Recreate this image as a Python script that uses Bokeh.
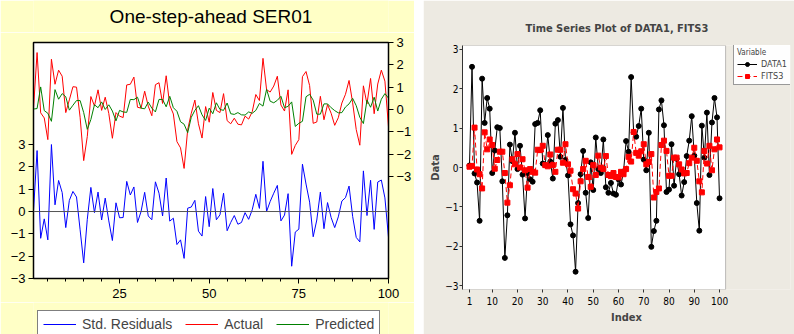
from bokeh.plotting import figure
from bokeh.models import (Range1d, LinearAxis, FixedTicker, Span, Legend,
                          LegendItem, Spacer, BoxAnnotation, Label)
from bokeh.layouts import row, column
from bokeh.embed import file_html
from bokeh.resources import INLINE

# ---------------- data ----------------
index = list(range(1, 101))

data1 = [0.05, 2.55, -0.15, -0.38, -1.35, 2.25, 1.13, 1.76, 1.49, -0.14,
         0.43, 1.02, 1.00, -0.35, -2.29, -1.21, 0.58, 0.16, 0.88, -0.04,
         0.55, -0.18, -1.29, -0.14, -0.30, -0.36, 1.10, 1.13, 1.45, 0.10,
         0.06, 0.82, 0.15, -0.28, 1.11, 1.20, 0.27, 1.51, 0.19, -0.20,
         -1.44, -1.72, -2.64, -0.90, -0.17, 0.42, -0.64, -1.28, 0.13, -0.57,
         0.76, -0.04, -0.14, 0.71, -0.50, -0.64, -0.39, -0.66, -0.69, -0.30,
         -0.43, -0.10, 0.67, 0.40, 2.29, 0.89, 0.78, 1.05, 1.49, 0.20,
         -0.07, 0.88, -2.01, -1.61, -1.35, 1.47, 1.70, 1.07, -0.62, -0.56,
         0.59, -0.46, 0.22, -0.17, -0.71, -0.37, 0.29, 0.68, 1.30, 0.30,
         -0.90, -1.60, 1.06, 0.25, 1.39, -0.19, 1.14, 1.76, 1.27, -0.78]

fits3 = [0.02, 0.04, 1.01, -0.05, -0.17, -0.53, 0.89, 0.46, 0.71, 0.57,
         -0.03, 0.19, 0.40, 0.40, -0.14, -0.89, -0.45, 0.21, 0.08, 0.34,
         0.00, 0.21, -0.07, -0.51, -0.04, -0.11, -0.13, 0.45, 0.44, 0.55,
         0.06, 0.03, 0.33, 0.06, -0.11, 0.45, 0.45, 0.12, 0.59, 0.08,
         -0.08, -0.55, -0.66, -1.04, -0.35, -0.04, 0.17, -0.24, -0.49, 0.06,
         -0.19, 0.30, 0.00, -0.04, 0.29, -0.19, -0.22, -0.14, -0.24, -0.25,
         -0.11, -0.17, -0.04, 0.27, 0.15, 0.90, 0.37, 0.30, 0.41, 0.59,
         0.08, 0.14, 0.34, -0.76, -0.62, -0.53, 0.57, 0.68, 0.42, -0.21,
         -0.21, 0.25, 0.25, 0.08, -0.05, -0.15, -0.14, 0.11, 0.25, 0.50,
         0.17, -0.35, -0.63, 0.42, 0.10, 0.55, -0.07, 0.46, 0.71, 0.51]

std_resid = [0.03, 2.73, -1.20, -0.33, -1.27, 3.00, 0.30, 1.39, 0.85, -0.72,
             0.50, 0.90, 0.65, -0.82, -2.30, -0.35, 1.08, -0.05, 0.87, -0.38,
             0.60, -0.42, -1.30, 0.39, -0.28, -0.27, 1.35, 0.74, 1.10, -0.49,
             0.00, 0.86, -0.20, -0.37, 1.33, 0.82, -0.20, 1.50, -0.43, -0.30,
             -1.48, -1.27, -2.10, 0.15, 0.20, 0.50, -0.88, -1.10, 0.67, -0.68,
             1.03, -0.37, -0.15, 0.82, -0.86, -0.49, -0.18, -0.57, -0.49, -0.05,
             -0.35, 0.08, 0.77, 0.14, 2.25, 0.00, 0.45, 0.82, 1.17, -0.42,
             -0.16, 0.80, -2.45, -0.92, -0.79, 2.12, 1.23, 0.42, -1.13, -0.38,
             0.87, -0.77, 0.40, -0.27, -0.72, -0.24, 0.47, 0.62, 1.14, -0.22,
             -1.16, -1.36, 1.82, -0.18, 1.40, -0.80, 1.32, 1.41, 0.61, -1.15]

y_ticks = [-3, -2, -1, 0, 1, 2, 3]
left_x_ticks = [25, 50, 75, 100]
left_x_minor = list(range(5, 101, 5))
right_x_ticks = [1, 10, 20, 30, 40, 50, 60, 70, 80, 90, 100]

# Minitab plot region (data extent of its white plot box) and the extra
# room to its right that holds the legend
mt_x0, mt_x1, mt_xlegend = -1.77, 102.4, 128.1
mt_y0, mt_y1 = -3.09, 3.09

FONT = "Liberation Sans"
COND = "DejaVu Sans Condensed"
YELLOW = "#FFFFC6"
BEIGE = "#EDEAE2"

# ---------------- left (EViews style) ----------------
# title strip
pt = figure(width=414, height=32, output_backend="svg", toolbar_location=None,
            x_range=Range1d(1, 100), y_range=Range1d(0, 1),
            min_border_left=0, min_border_right=0, min_border_top=0,
            min_border_bottom=0)
pt.axis.visible = False
pt.grid.visible = False
pt.outline_line_color = None
pt.background_fill_color = YELLOW
pt.border_fill_color = YELLOW
pt.add_layout(Label(x=50.5, y=0.5, text="One-step-ahead SER01",
                    text_font=FONT, text_font_size="19px",
                    text_align="center", text_baseline="middle",
                    text_color="black"))

p1 = figure(width=414, height=270, output_backend="svg", toolbar_location=None,
            x_range=Range1d(1, 100), y_range=Range1d(-3, 7.57),
            min_border_left=33, min_border_right=24, min_border_top=10,
            min_border_bottom=24)
p1.border_fill_color = YELLOW
p1.background_fill_color = "white"
p1.outline_line_color = "black"
p1.outline_line_width = 1.5
p1.grid.visible = False

p1.extra_y_ranges = {"act": Range1d(-7.57, 3)}
ax_r = LinearAxis(y_range_name="act", ticker=FixedTicker(ticks=y_ticks))
p1.add_layout(ax_r, "right")
p1.yaxis[0].ticker = FixedTicker(ticks=y_ticks)
p1.xaxis[0].ticker = FixedTicker(ticks=left_x_ticks, minor_ticks=left_x_minor)

for ax in p1.axis:
    ax.major_label_text_font = FONT
    ax.major_label_text_font_size = "13px"
    ax.major_label_text_color = "black"
    ax.axis_line_color = "black"
    ax.major_tick_line_color = "black"
    ax.minor_tick_line_color = "black"
    ax.major_tick_in = 0
    ax.major_tick_out = 5
    ax.minor_tick_in = 0
    ax.minor_tick_out = 3
    ax.major_label_standoff = 3
p1.xaxis[0].major_label_standoff = 5

p1.add_layout(Span(location=0, dimension="width", line_color="#555555", line_width=1))

r_res = p1.line(index, std_resid, line_color="#0000FF", line_width=1)
r_act = p1.line(index, data1, line_color="#FF0000", line_width=1, y_range_name="act")
r_pre = p1.line(index, fits3, line_color="#008000", line_width=1, y_range_name="act")

# legend strip below the EViews chart (its box runs off the bottom edge)
pl = figure(width=414, height=32, output_backend="svg", toolbar_location=None,
            x_range=Range1d(1, 100), y_range=Range1d(50, 60),
            min_border_left=0, min_border_right=0, min_border_top=0,
            min_border_bottom=0)
pl.axis.visible = False
pl.grid.visible = False
pl.outline_line_color = None
pl.background_fill_color = YELLOW
pl.border_fill_color = YELLOW
g_res = pl.line(index, std_resid, line_color="#0000FF", line_width=1)
g_act = pl.line(index, data1, line_color="#FF0000", line_width=1)
g_pre = pl.line(index, fits3, line_color="#008000", line_width=1)
leg1 = Legend(items=[LegendItem(label="Std. Residuals", renderers=[g_res]),
                     LegendItem(label="Actual", renderers=[g_act]),
                     LegendItem(label="Predicted", renderers=[g_pre])],
              orientation="horizontal", location=(4, -4))
leg1.label_text_font = FONT
leg1.label_text_font_size = "14px"
leg1.glyph_width = 33
leg1.glyph_height = 16
leg1.label_height = 16
leg1.label_standoff = 6
leg1.spacing = 13
leg1.padding = 5
leg1.margin = 0
leg1.border_line_color = "black"
leg1.background_fill_color = "white"
leg1.background_fill_alpha = 1
pl.add_layout(leg1, "center")

left = column(pt, p1, pl, spacing=0)

# ---------------- right (Minitab style) ----------------
p2 = figure(width=371, height=334, output_backend="svg", toolbar_location=None,
            x_range=Range1d(mt_x0, mt_xlegend), y_range=Range1d(mt_y0, mt_y1),
            min_border_left=39, min_border_right=4, min_border_top=45,
            min_border_bottom=45)
p2.border_fill_color = BEIGE
p2.background_fill_color = BEIGE
p2.outline_line_color = None
p2.grid.visible = False
p2.styles = {"outline": "1px solid black", "outline-offset": "-2px"}

p2.add_layout(BoxAnnotation(left=mt_x0, right=mt_x1, bottom=mt_y0, top=mt_y1,
                            fill_color="white", fill_alpha=1,
                            line_color="#333333", line_width=1,
                            level="underlay"))

p2.title.text = "Time Series Plot of DATA1, FITS3"
p2.title.align = "left"
p2.title.offset = 63
p2.title.vertical_align = "top"
p2.title.text_font = COND
p2.title.text_font_size = "11px"
p2.title.text_font_style = "bold"
p2.title.standoff = 17

p2.xaxis[0].ticker = FixedTicker(ticks=right_x_ticks)
p2.yaxis[0].ticker = FixedTicker(ticks=y_ticks)
p2.xaxis[0].axis_label = "Index"
p2.yaxis[0].axis_label = "Data"
for ax in p2.axis:
    ax.major_label_text_font = COND
    ax.major_label_text_font_size = "10px"
    ax.major_label_text_color = "black"
    ax.axis_line_color = "#333333"
    ax.major_tick_line_color = "#333333"
    ax.major_tick_in = 0
    ax.major_tick_out = 3
    ax.minor_tick_out = 0
    ax.minor_tick_in = 0
    ax.major_label_standoff = 1
    ax.axis_label_text_font = COND
    ax.axis_label_text_font_size = "11px"
    ax.axis_label_text_font_style = "bold"
    ax.axis_label_standoff = 0
p2.xaxis[0].axis_line_color = None
p2.xaxis[0].major_label_standoff = 4
p2.xaxis[0].axis_label_standoff = 3

l1 = p2.line(index, data1, line_color="black", line_width=1)
s1 = p2.scatter(index, data1, marker="circle", size=5, color="black")
l2 = p2.line(index, fits3, line_color="#FF0000", line_width=1, line_dash="5 3")
s2 = p2.scatter(index, fits3, marker="square", size=5, color="#FF0000")

leg2 = Legend(items=[LegendItem(label="DATA1", renderers=[l1, s1]),
                     LegendItem(label="FITS3", renderers=[l2, s2])],
              title="Variable", location=(271, 204))
leg2.title_text_font = COND
leg2.title_text_font_size = "8px"
leg2.title_text_font_style = "normal"
leg2.title_standoff = 2
leg2.label_text_font = COND
leg2.label_text_font_size = "9px"
leg2.glyph_width = 20
leg2.glyph_height = 10
leg2.label_height = 10
leg2.label_standoff = 4
leg2.spacing = 2
leg2.padding = 3
leg2.margin = 0
leg2.border_line_color = "#333333"
leg2.background_fill_color = "white"
p2.add_layout(leg2, "center")

layout = row(left, Spacer(width=9, height=334), p2, spacing=0)
open("out.html", "w").write(file_html(layout, INLINE))
